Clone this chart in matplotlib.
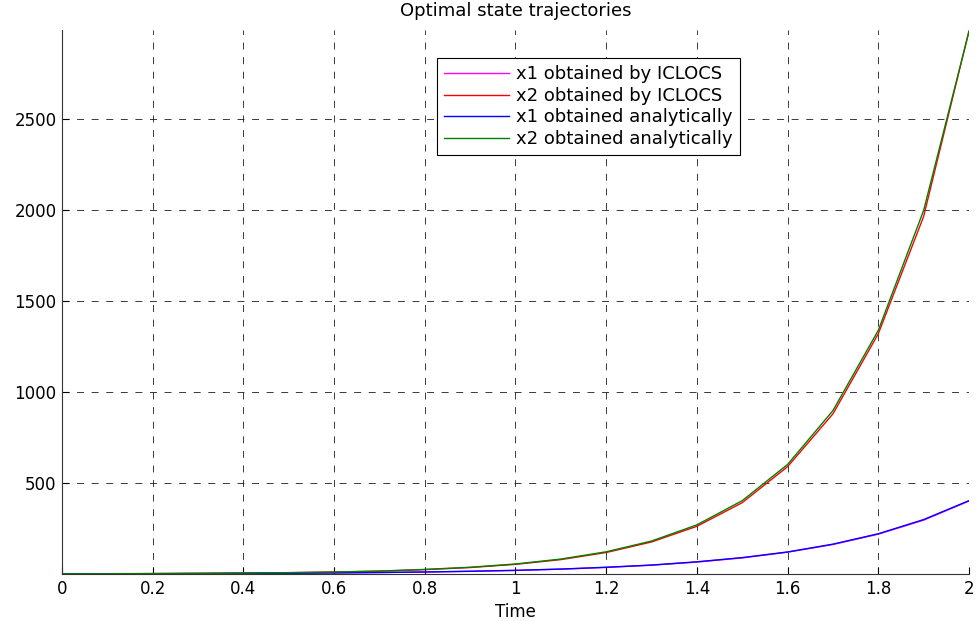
import matplotlib
matplotlib.use("Agg")
import matplotlib.pyplot as plt

# time grid
t = [0.0, 0.1, 0.2, 0.3, 0.4, 0.5, 0.6, 0.7, 0.8, 0.9, 1.0,
     1.1, 1.2, 1.3, 1.4, 1.5, 1.6, 1.7, 1.8, 1.9, 2.0]

# analytic solution
x1_analytic = [1, 1.35, 1.8, 2.5, 3.3, 4.5, 6.0, 8.2, 11, 15, 20,
               27, 37, 49, 67, 90, 121, 164, 221, 299, 403]
x2_analytic = [1, 1.5, 2.2, 3.3, 5.0, 7.4, 11, 16, 25, 37, 55,
               82, 122, 181, 270, 403, 602, 898, 1339, 1998, 2981]

# ICLOCS solution (slightly lagging the analytic one)
x1_iclocs = [1, 1.35, 1.8, 2.4, 3.2, 4.4, 5.9, 8.0, 10.8, 14.7, 19.7,
             26.6, 36, 48.5, 65.5, 88.5, 120, 162, 219, 296, 401]
x2_iclocs = [1, 1.5, 2.1, 3.2, 4.8, 7.1, 10.6, 15.6, 24, 35.5, 53,
             79, 118, 176, 262, 392, 590, 880, 1320, 1965, 2985]

xticks = [0, 0.2, 0.4, 0.6, 0.8, 1, 1.2, 1.4, 1.6, 1.8, 2]
xticklabels = ["0", "0.2", "0.4", "0.6", "0.8", "1", "1.2", "1.4", "1.6", "1.8", "2"]
yticks = [500, 1000, 1500, 2000, 2500]

plt.rcParams["font.family"] = ["DejaVu Sans"]
plt.rcParams["lines.scale_dashes"] = False

fig = plt.figure(figsize=(9.76, 6.21), dpi=100)
ax = fig.add_axes([0.0635, 0.0757, 0.9293, 0.876])

ax.plot(t, x1_iclocs, color="#ff00ff", lw=1.0, label="x1 obtained by ICLOCS")
ax.plot(t, x2_iclocs, color="#ff0000", lw=1.0, label="x2 obtained by ICLOCS")
ax.plot(t, x1_analytic, color="#0000ff", lw=1.0, label="x1 obtained analytically")
ax.plot(t, x2_analytic, color="#008000", lw=1.0, label="x2 obtained analytically")

ax.set_xlim(0, 2)
ax.set_ylim(0, 2990)
ax.set_xticks(xticks)
ax.set_xticklabels(xticklabels)
ax.set_yticks(yticks)
ax.tick_params(direction="in", length=5, width=0.8, labelsize=12,
               top=False, right=False, pad=4)

ax.grid(True, color="#1a1a1a", linestyle=(0, (5, 5.5)), linewidth=0.6)
for side in ["top", "right"]:
    ax.spines[side].set_visible(False)
for side in ["left", "bottom"]:
    ax.spines[side].set_color("#333333")

ax.set_xlabel("Time", fontsize=12, labelpad=4)
ax.set_title("Optimal state trajectories", fontsize=13, pad=10)

leg = ax.legend(loc="upper left", bbox_to_anchor=(0.4135, 0.9485), borderaxespad=0,
                fontsize=13, frameon=True, fancybox=False, framealpha=1,
                edgecolor="black", handlelength=3.6, handletextpad=0.4,
                borderpad=0.4, labelspacing=0.2)
leg.get_frame().set_linewidth(0.8)

fig.savefig("out.png", dpi=100)
